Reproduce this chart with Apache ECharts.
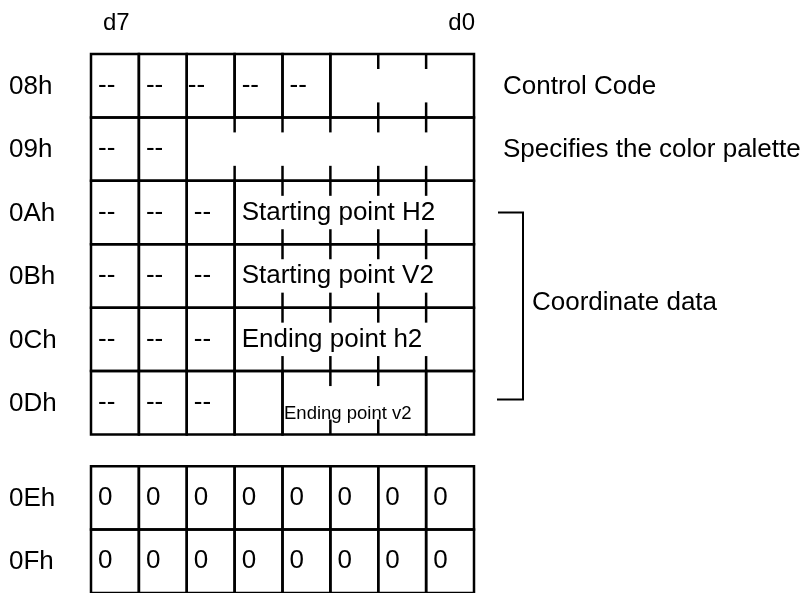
<!DOCTYPE html>
<html><head><meta charset="utf-8">
<script src="https://cdn.jsdelivr.net/npm/echarts@6/dist/echarts.min.js"></script>
<style>html,body{margin:0;padding:0;background:#fff}#c{width:810px;height:593px}</style>
</head><body><div id="c"></div>
<script>
// ---- data ----
const rowLabels = ['08h', '09h', '0Ah', '0Bh', '0Ch', '0Dh', '0Eh', '0Fh'];
const bitLabels = ['d7', 'd0'];
// cells per register: [firstBit, lastBit, text]  (bit column 0 = d7 ... 7 = d0)
const row08 = [[0,0,'--'],[1,1,'--'],[2,2,'--'],[3,3,'--'],[4,4,'--'],[5,7,'']];
const row09 = [[0,0,'--'],[1,1,'--'],[2,7,'']];
const row0A = [[0,0,'--'],[1,1,'--'],[2,2,'--'],[3,7,'Starting point H2']];
const row0B = [[0,0,'--'],[1,1,'--'],[2,2,'--'],[3,7,'Starting point V2']];
const row0C = [[0,0,'--'],[1,1,'--'],[2,2,'--'],[3,7,'Ending point h2']];
const row0D = [[0,0,'--'],[1,1,'--'],[2,2,'--'],[3,3,''],[4,6,'Ending point v2'],[7,7,'']];
const row0E = [[0,0,'0'],[1,1,'0'],[2,2,'0'],[3,3,'0'],[4,4,'0'],[5,5,'0'],[6,6,'0'],[7,7,'0']];
const row0F = [[0,0,'0'],[1,1,'0'],[2,2,'0'],[3,3,'0'],[4,4,'0'],[5,5,'0'],[6,6,'0'],[7,7,'0']];
const rowCells = [row08, row09, row0A, row0B, row0C, row0D, row0E, row0F];
const tableGroups = [[0,1,2,3,4,5],[6,7]];
const descriptions = [[0, 'Control Code'], [1, 'Specifies the color palette']];
const bracketGroups = [[2, 5, 'Coordinate data']];

// ---- layout / style (code side) ----
const FONT = '"Liberation Sans", Arial, Helvetica, sans-serif';
const FS = 26;
const GAP = 0.5;
const rowPos = [];
{
  let p = 0;
  tableGroups.forEach((g, gi) => { if (gi > 0) p += GAP; g.forEach(r => { rowPos[r] = p; p += 1; }); });
}
const padOverride = { '0:2': 1 };
const meas = document.createElement('canvas').getContext('2d');
function textW(t, fs) { meas.font = fs + 'px ' + FONT; return meas.measureText(t).width; }

const cellList = [];
rowCells.forEach((cells, r) => cells.forEach((c, ci) => cellList.push({ r, ci, c0: c[0], c1: c[1] + 1, text: c[2] })));

const chart = echarts.init(document.getElementById('c'), null, { renderer: 'canvas' });
const LW = 2.5, TICK = 15;

function renderCell(params, api) {
  const cell = cellList[params.dataIndex];
  const r = api.value(2);
  const tl = api.coord([api.value(0), r]);
  const br = api.coord([api.value(1), r + 1]);
  const ch = [{ type: 'rect', shape: { x: tl[0], y: tl[1], width: br[0] - tl[0], height: br[1] - tl[1] },
    style: { fill: 'none', stroke: '#000', lineWidth: LW } }];
  for (let b = cell.c0 + 1; b < cell.c1; b++) {
    const x = api.coord([b, r])[0];
    ch.push({ type: 'line', shape: { x1: x, y1: tl[1], x2: x, y2: tl[1] + TICK }, style: { stroke: '#000', lineWidth: LW } });
    ch.push({ type: 'line', shape: { x1: x, y1: br[1] - TICK, x2: x, y2: br[1] }, style: { stroke: '#000', lineWidth: LW } });
  }
  if (cell.text) {
    const w = br[0] - tl[0];
    let fs = FS, dy = 0, pad = 7;
    const tw = textW(cell.text, FS);
    if (tw > w - 16) { fs = FS * (w - 16) / tw; dy = 11; pad = 1.5; }
    const key = cell.r + ':' + cell.ci;
    if (padOverride[key] !== undefined) pad = padOverride[key];
    ch.push({ type: 'text', x: tl[0] + pad, y: (tl[1] + br[1]) / 2 + dy,
      style: { text: cell.text, fontSize: fs, fontFamily: FONT, fill: '#000', align: 'left', verticalAlign: 'middle' } });
  }
  return { type: 'group', children: ch };
}

function renderRowLabel(params, api) {
  const r = api.value(0);
  const p = api.coord([0, r + 0.5]);
  return { type: 'text', x: p[0] - 82, y: p[1] + 1,
    style: { text: rowLabels[params.dataIndex], fontSize: FS, fontFamily: FONT, fill: '#000', align: 'left', verticalAlign: 'middle' } };
}

function renderBits(params, api) {
  const i = params.dataIndex;
  const p = api.coord([api.value(0), 0]);
  return { type: 'text', x: i === 0 ? p[0] + 12 : p[0] + 1, y: p[1] - 31,
    style: { text: bitLabels[i], fontSize: 24, fontFamily: FONT, fill: '#000', align: i === 0 ? 'left' : 'right', verticalAlign: 'middle' } };
}

function renderDesc(params, api) {
  const p = api.coord([8, api.value(0) + 0.5]);
  return { type: 'text', x: p[0] + 29, y: p[1] + 1,
    style: { text: descriptions[params.dataIndex][1], fontSize: FS, fontFamily: FONT, fill: '#000', align: 'left', verticalAlign: 'middle' } };
}

function renderBracket(params, api) {
  const a = api.coord([8, api.value(0) + 0.5]);
  const b = api.coord([8, api.value(1) + 0.45]);
  const x0 = a[0] + 24, x1 = a[0] + 49;
  return { type: 'group', children: [
    { type: 'polyline', shape: { points: [[x0, a[1]], [x1, a[1]], [x1, b[1]], [x0 - 1, b[1]]] },
      style: { stroke: '#000', lineWidth: 2, fill: 'none' } },
    { type: 'text', x: x1 + 9, y: (a[1] + b[1]) / 2 - 3,
      style: { text: bracketGroups[params.dataIndex][2], fontSize: FS, fontFamily: FONT, fill: '#000', align: 'left', verticalAlign: 'middle' } }
  ] };
}

chart.setOption({
  animation: false,
  backgroundColor: '#fff',
  grid: { left: 91, top: 54, width: 383, height: 63.6 * 8.5 },
  xAxis: { type: 'value', min: 0, max: 8, show: false },
  yAxis: { type: 'value', min: 0, max: 8.5, inverse: true, show: false },
  series: [
    { type: 'custom', clip: false, renderItem: renderCell, data: cellList.map(c => [c.c0, c.c1, rowPos[c.r]]) },
    { type: 'custom', clip: false, renderItem: renderRowLabel, data: rowLabels.map((l, i) => [rowPos[i]]) },
    { type: 'custom', clip: false, renderItem: renderBits, data: [[0], [8]] },
    { type: 'custom', clip: false, renderItem: renderDesc, data: descriptions.map(d => [rowPos[d[0]]]) },
    { type: 'custom', clip: false, renderItem: renderBracket, data: bracketGroups.map(g => [rowPos[g[0]], rowPos[g[1]]]) }
  ]
});
</script></body></html>
